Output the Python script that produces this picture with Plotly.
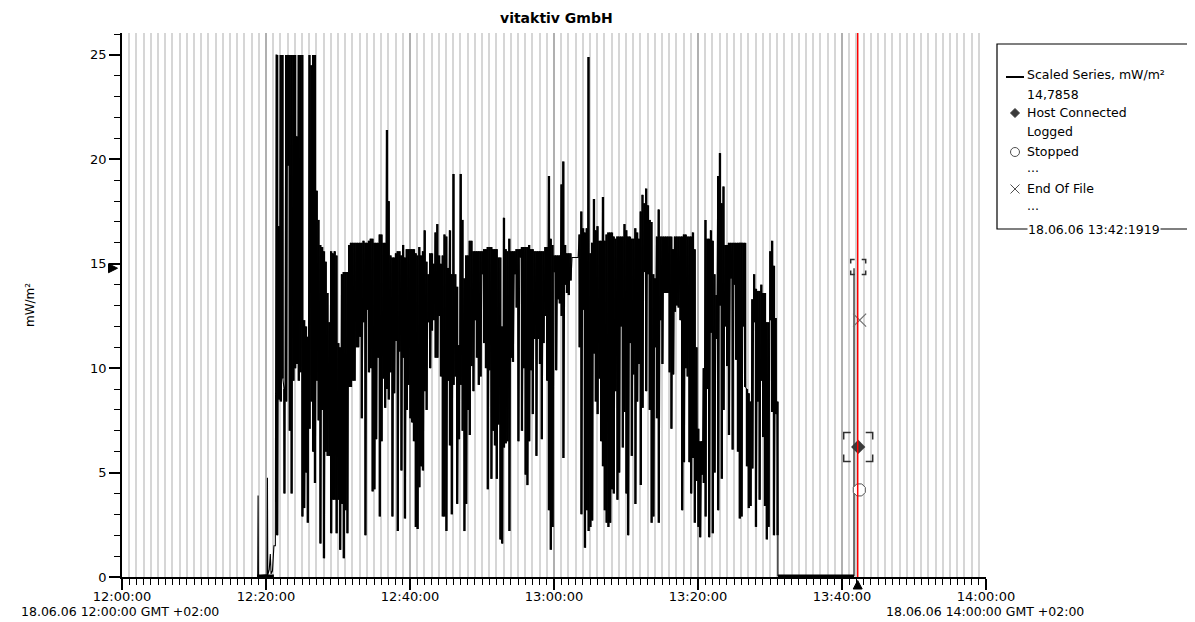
import plotly.graph_objects as go

# ---------------- data (minutes after 12:00:00, values in mW/m²) ----------------
x_tick_vals = [0, 20, 40, 60, 80, 100, 120]
x_tick_labels = ["12:00:00", "12:20:00", "12:40:00", "13:00:00", "13:20:00", "13:40:00", "14:00:00"]
y_tick_vals = [0, 5, 10, 15, 20, 25]
date_labels = ["18.06.06 12:00:00 GMT +02:00", "18.06.06 14:00:00 GMT +02:00"]

# start of recording (baseline and first spikes)
pre_t = [18.75, 18.85, 18.9, 18.95, 20.15, 20.2, 20.25, 20.45, 20.6, 20.7, 20.9, 21.1, 21.3, 21.4]
pre_v = [0.06, 0.06, 3.9, 0.06, 0.1, 4.75, 0.1, 0.35, 1.1, 0.15, 0.3, 1.5, 1.5, 25.0]

# dense part: one sample pair (high, low) every 15 s from 12:21:30
dense_start = 21.5
dense_step = 0.25
v_hi = [
    25, 16.8, 25, 25, 9, 25, 25, 25, 25, 25,
    25, 21.1, 25, 25, 25, 12.3, 12, 11.5, 25, 24.5,
    25, 25, 18.5, 17.1, 15.9, 15.8, 15.6, 15.1, 13.6, 12.2,
    15.6, 15.5, 15.6, 15.4, 11.2, 11.0, 14.5, 14.6, 14.6, 14.6,
    15.9, 16.0, 16.0, 16.0, 16.0, 16.0,
    16.0, 16.0, 16.1, 16.0, 16.0, 16.1, 16.2, 16.2, 16.0, 16.0,
    16.0, 16.4, 16.4, 16.0, 16.0, 21.4, 18.0, 15.4, 15.3, 15.3,
    15.5, 15.6, 15.6, 15.4, 15.9, 15.3, 15.7, 15.7, 15.7, 15.7,
    15.7, 15.5, 15.4, 15.8, 15.4, 15.6, 16.6, 15.1, 14.5, 15.5,
    15.5, 15.0, 16.5, 16.9, 15.4, 15.0, 15.4, 16.4, 16.3, 14.8,
    16.6, 14.5, 19.3, 14.5, 13.9, 11.1, 19.3, 17.1, 14.3, 15.4,
    15.4, 16.1, 16.1, 15.6, 15.6, 15.6, 15.6, 15.6, 15.6, 15.7,
    15.7, 15.8, 15.8, 15.8, 15.7, 15.7, 15.7, 15.3, 15.3, 12.0,
    17.2, 15.7, 15.6, 16.2, 15.6, 15.6, 15.6, 15.7, 15.7, 15.7,
    15.8, 15.8, 15.8, 15.8, 15.9, 15.7, 15.7, 15.6, 15.6, 15.6,
    15.6, 15.6, 15.6, 15.8, 15.8, 19.2, 16.2, 15.9, 15.4, 15.4,
    15.4, 15.4, 18.8, 19.9, 15.9, 15.5, 15.5, 15.5, 15.3, 15.3,
    15.3, 15.3, 16.4, 17.5, 16.7, 16.5, 16.7, 24.9, 15.5, 16.0,
    18.1, 16.6, 16.8, 16.1, 16.1, 18.2, 16.1, 16.4, 16.5, 16.5,
    16.5, 16.3, 16.2, 16.3, 16.3, 16.3, 16.3, 16.9, 16.6, 16.3,
    16.3, 16.2, 16.2, 16.7, 16.5, 16.2, 17.5, 18.3, 17.9, 18.6,
    17.8, 17.1, 17.0, 14.5, 14.3, 16.3, 17.6, 16.3, 16.3, 16.3,
    16.3, 16.3, 16.3, 16.3, 15.7, 16.3, 16.3, 16.3, 16.3, 16.3,
    16.4, 16.4, 16.3, 16.3, 16.3, 16.5, 15.7, 11.0, 7.1, 6.5,
    6.5, 10.0, 17.1, 16.2, 16.2, 16.6, 16.1, 14.5, 13.5, 19.2,
    20.3, 17.9, 18.7, 15.9, 15.9, 16.0, 16.0, 16.0, 16.0, 16.0,
    16.0, 16.0, 16.0, 16.0, 16.0, 9.0, 8.8, 8.4, 13.3, 14.5,
    13.8, 13.7, 13.7, 14.0, 13.6, 13.6, 12.2, 12.2, 15.6, 16.1,
    14.9, 12.4, 8.4,
]
v_lo = [
    2.0, 8.5, 8.4, 9.5, 4.0, 8.4, 19.7, 7.0, 4.0, 9.4,
    10.0, 10.2, 9.4, 9.8, 2.9, 3.3, 5.0, 2.6, 7.1, 8.4,
    6.0, 4.5, 9.4, 7.5, 1.6, 8.0, 0.9, 6.0, 5.8, 5.8,
    2.1, 3.7, 3.7, 2.1, 3.7, 1.3, 3.5, 0.9, 3.2, 2.1,
    9.1, 9.1, 9.4, 9.4, 11.0, 11.0,
    11.5, 7.6, 12.2, 2.0, 12.8, 9.8, 10.0, 4.1, 4.2, 6.6,
    10.5, 2.9, 6.5, 9.5, 8.1, 9.0, 8.5, 9.8, 2.9, 8.8,
    11.3, 2.2, 10.8, 5.1, 10.5, 2.8, 8.0, 9.2, 7.6, 7.4,
    6.5, 2.4, 2.3, 4.3, 5.3, 5.1, 8.9, 8.0, 12.2, 10.0,
    11.8, 12.3, 10.5, 10.5, 12.5, 9.6, 2.9, 2.9, 2.2, 9.4,
    6.3, 3.0, 9.2, 9.6, 3.5, 6.6, 9.2, 7.0, 2.2, 3.5,
    8.0, 6.8, 10.1, 8.9, 12.3, 10.5, 9.2, 9.6, 14.5, 11.2,
    10.0, 4.2, 9.9, 4.7, 7.0, 6.3, 4.7, 7.3, 1.8, 1.6,
    6.2, 6.4, 6.5, 2.2, 10.5, 10.3, 14.5, 12.9, 6.5, 15.3,
    7.0, 10.0, 4.9, 4.4, 6.5, 9.9, 7.8, 11.4, 5.8, 11.4,
    10.2, 6.6, 11.2, 12.5, 9.4, 3.2, 1.3, 2.4, 14.6, 9.9,
    13.3, 13.1, 12.5, 5.7, 14.0, 13.6, 13.5, 14.2, 15.3, 15.3,
    15.3, 15.3, 11.0, 3.0, 12.8, 1.4, 3.2, 2.2, 2.4, 2.7,
    10.7, 8.4, 7.8, 9.5, 6.5, 5.3, 3.2, 2.6, 2.4, 2.6,
    4.2, 4.0, 8.9, 3.7, 5.0, 12.0, 6.2, 7.9, 4.0, 2.0,
    11.2, 5.8, 9.7, 3.5, 8.4, 10.2, 4.4, 8.1, 14.6, 8.9,
    14.5, 8.0, 2.6, 2.9, 11.0, 7.6, 2.6, 12.3, 10.2, 13.6,
    13.6, 13.6, 9.8, 7.1, 9.7, 12.7, 13.0, 12.9, 12.3, 3.2,
    5.5, 10.0, 9.6, 5.5, 4.0, 5.7, 2.6, 4.6, 2.4, 1.9,
    4.9, 4.5, 2.9, 9.0, 1.9, 11.7, 2.1, 5.0, 11.4, 3.2,
    13.0, 4.7, 8.0, 12.0, 10.1, 6.8, 14.3, 6.1, 14.0, 10.4,
    6.0, 2.8, 2.9, 12.0, 9.1, 5.3, 3.3, 3.4, 5.2, 12.2,
    2.4, 8.4, 3.7, 9.4, 6.7, 3.4, 1.8, 2.4, 12.3, 7.9,
    2.0, 7.8, 2.0,
]

# end of recording: drop to zero, then the last value
tail_t = [91.1, 101.67, 101.67]
tail_v = [0.06, 0.06, 14.79]

current_value = 14.7858
cursor_t = 102.18
events = {  # name: (minute, value)
    "Host Connected": (102.25, 6.23),
    "Stopped": (102.4, 4.17),
    "End Of File": (102.45, 12.3),
    "Logged": (102.2, 14.85),
}
legend_lines = ["Scaled Series, mW/m²", "14,7858", "Host Connected", "Logged",
                "Stopped", "...", "End Of File", "..."]
cursor_label = "18.06.06 13:42:1919"

# ---------------- build the signal ----------------
dense_t = [dense_start + i * dense_step for i in range(len(v_hi))]
xs = list(pre_t)
ys = list(pre_v)
for t, h, l in zip(dense_t, v_hi, v_lo):
    xs += [t, t + 0.1]
    ys += [h, l]
xs += tail_t
ys += tail_v

# ---------------- geometry ----------------
# the page adds an 8px body margin, so the figure is drawn 8px smaller
OFF = 8
FIG_W, FIG_H = 1195 - OFF, 622 - OFF
PL, PT, W, H = 122, 33, 864, 544          # plot area in page pixels
def px(x):
    return (x - PL) / W
def py(y):
    return (PT + H - y) / H
XMIN_PER_PX = 120 / W
Y_PER_PX = 26.05 / H

FONT = "DejaVu Sans"
fig = go.Figure()

# each 15 s sample pair covers its min..max range (dense black band)
fig.add_trace(go.Bar(x=[t + 0.05 for t in dense_t], base=v_lo, y=[h - l for h, l in zip(v_hi, v_lo)],
                     width=dense_step * 1.3, marker=dict(color="black", line=dict(width=0)),
                     hoverinfo="skip"))
fig.add_trace(go.Scatter(x=xs, y=ys, mode="lines",
                         line=dict(color="black", width=1.1, simplify=False), hoverinfo="skip"))
# thicker zero-level stretches (start and end of the recording)
fig.add_trace(go.Scatter(x=[pre_t[0], pre_t[-3], None, tail_t[0], tail_t[1]],
                         y=[pre_v[0], pre_v[0], None, tail_v[0], tail_v[1]], mode="lines",
                         line=dict(color="black", width=2.5), hoverinfo="skip"))

# event markers on the cursor
hc = events["Host Connected"]
st = events["Stopped"]
eof = events["End Of File"]
fig.add_trace(go.Scatter(x=[eof[0]], y=[eof[1]], mode="markers",
                         marker=dict(symbol="x-thin-open", size=13, color="#707070",
                                     line=dict(color="#707070", width=1.2)),
                         hoverinfo="skip"))
fig.add_trace(go.Scatter(x=[hc[0]], y=[hc[1]], mode="markers",
                         marker=dict(symbol="diamond", size=11, color="#3a3a3a"), hoverinfo="skip"))
fig.add_trace(go.Scatter(x=[st[0]], y=[st[1]], mode="markers",
                         marker=dict(symbol="octagon", size=13, color="white", line=dict(color="#505050", width=1)),
                         hoverinfo="skip"))

shapes = []
shapes.append(dict(type="line", xref="x", yref="paper", x0=cursor_t, x1=cursor_t, y0=0, y1=1,
                   line=dict(color="red", width=1.5), layer="above"))

def bracket(cx, cy, half_px, arm_px):
    hx, hy = half_px * XMIN_PER_PX, half_px * Y_PER_PX
    ax, ay = arm_px * XMIN_PER_PX, arm_px * Y_PER_PX
    p = ""
    for sx in (-1, 1):
        for sy in (-1, 1):
            x0, y0 = cx + sx * hx, cy + sy * hy
            p += f"M{x0 - sx * ax},{y0} L{x0},{y0} L{x0},{y0 - sy * ay} "
    return dict(type="path", xref="x", yref="y", path=p, line=dict(color="#303030", width=1.5), layer="above")

lg = events["Logged"]
shapes.append(bracket(lg[0] + 0.05, lg[1], 7.5, 4))
shapes.append(bracket(hc[0], hc[1], 14.5, 7))

def ppath(points, **kw):
    p = "M" + " L".join(f"{px(a)},{py(b)}" for a, b in points) + " Z"
    return dict(type="path", xref="paper", yref="paper", path=p, **kw)

cur_px = PL + cursor_t / XMIN_PER_PX
shapes.append(ppath([(cur_px - 4.5, 589), (cur_px + 4.5, 589), (cur_px, 580.5)],
                    fillcolor="black", line=dict(color="black", width=1)))
cur_py = PT + H - current_value / Y_PER_PX
shapes.append(ppath([(108.5, cur_py - 4.5), (108.5, cur_py + 4.5), (117.5, cur_py)],
                    fillcolor="black", line=dict(color="black", width=1)))

# legend box and samples
shapes.append(dict(type="rect", xref="paper", yref="paper", x0=px(997), x1=px(1190), y0=py(229), y1=py(44),
                   line=dict(color="black", width=1.2), fillcolor="rgba(0,0,0,0)"))
shapes.append(dict(type="line", xref="paper", yref="paper", x0=px(1006), x1=px(1024), y0=py(77), y1=py(77),
                   line=dict(color="black", width=2)))
shapes.append(ppath([(1015, 108.5), (1019.5, 113), (1015, 117.5), (1010.5, 113)],
                    fillcolor="#3a3a3a", line=dict(color="#3a3a3a", width=1)))
shapes.append(dict(type="circle", xref="paper", yref="paper", x0=px(1010.5), x1=px(1019.5),
                   y0=py(156.5), y1=py(147.5), fillcolor="white", line=dict(color="#505050", width=1)))
shapes.append(dict(type="path", xref="paper", yref="paper",
                   path=f"M{px(1010.5)},{py(184.5)} L{px(1019.5)},{py(193.5)} "
                        f"M{px(1010.5)},{py(193.5)} L{px(1019.5)},{py(184.5)}",
                   line=dict(color="#505050", width=1)))

annotations = []
def ann(text, x, y, size=12.5, **kw):
    d = dict(text=text, xref="paper", yref="paper", x=px(x), y=py(y), showarrow=False,
             xanchor=kw.pop("xanchor", "center"), yanchor="middle",
             font=dict(family=FONT, size=size, color="black", **kw.pop("fontkw", {})))
    d.update(kw)
    annotations.append(d)

ann("vitaktiv GmbH", 556, 18, size=14, fontkw=dict(weight="bold"))
ann("mW/m²", 30, 305, size=12, textangle=-90)
ann(date_labels[0], 120, 611)
ann(date_labels[1], 985, 611)
legend_y = [75, 94, 112, 131, 151, 167, 188, 205]
for txt, yy in zip(legend_lines, legend_y):
    ann(txt, 1025, yy, xanchor="left")
ann(cursor_label, 1094, 229, bgcolor="white", borderpad=0)

fig.update_layout(
    width=FIG_W, height=FIG_H,
    margin=dict(l=PL - OFF, r=FIG_W - (PL - OFF) - W, t=PT - OFF, b=FIG_H - (PT - OFF) - H),
    paper_bgcolor="white", plot_bgcolor="white",
    showlegend=False, barmode="overlay",
    shapes=shapes, annotations=annotations,
    xaxis=dict(range=[0, 120], tickmode="array", tickvals=x_tick_vals, ticktext=x_tick_labels,
               showgrid=True, gridcolor="#b0b0b0", gridwidth=1.5,
               showline=True, linecolor="black", linewidth=1.5,
               ticks="outside", ticklen=11, tickwidth=1.5, tickcolor="black",
               ticklabelstandoff=-4,
               tickfont=dict(family=FONT, size=13, color="black"), zeroline=False,
               minor=dict(tickmode="linear", tick0=0, dtick=1, ticks="outside", ticklen=6, tickwidth=1,
                          tickcolor="black", showgrid=True, gridcolor="#d6d6d6", gridwidth=1.5)),
    yaxis=dict(range=[0, 26.05], tickmode="array", tickvals=y_tick_vals,
               showgrid=False, zeroline=False,
               showline=True, linecolor="black", linewidth=1.5,
               ticks="outside", ticklen=11, tickwidth=1.5, tickcolor="black",
               tickfont=dict(family=FONT, size=13, color="black"),
               minor=dict(tickmode="linear", tick0=0, dtick=1, ticks="outside", ticklen=6, tickwidth=1,
                          tickcolor="black")),
)

fig.write_html("out.html")
